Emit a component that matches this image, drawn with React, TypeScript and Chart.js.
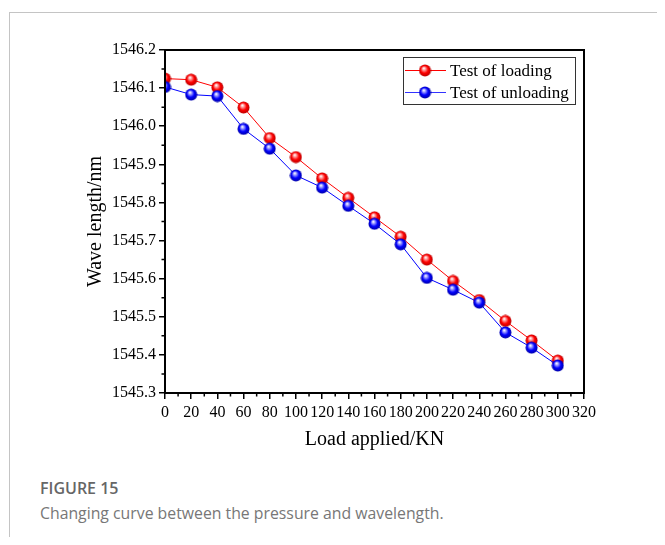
import React, { useEffect, useRef } from 'react';
import { Chart, registerables } from 'chart.js';

Chart.register(...registerables);

// ---- data ----
const loads = [0, 20, 40, 60, 80, 100, 120, 140, 160, 180, 200, 220, 240, 260, 280, 300];
const loadingWave = [1546.125, 1546.122, 1546.102, 1546.049, 1545.969, 1545.919, 1545.863, 1545.812, 1545.761, 1545.71, 1545.65, 1545.594, 1545.544, 1545.489, 1545.438, 1545.385];
const unloadingWave = [1546.103, 1546.083, 1546.079, 1545.993, 1545.941, 1545.871, 1545.839, 1545.791, 1545.744, 1545.69, 1545.602, 1545.571, 1545.537, 1545.459, 1545.419, 1545.372];
const seriesNames = ['Test of loading', 'Test of unloading'];
const xAxisTitle = 'Load applied/KN';
const yAxisTitle = 'Wave length/nm';
const figureLabel = 'FIGURE 15';
const figureCaption = 'Changing curve between the pressure and wavelength.';

const SERIF = '"Liberation Serif", "Times New Roman", serif';

function makeSphere(base: string, light: string, dark: string): HTMLCanvasElement {
  const c = document.createElement('canvas');
  c.width = 13;
  c.height = 13;
  const ctx = c.getContext('2d')!;
  const g = ctx.createRadialGradient(5.2, 4.2, 0.3, 6.5, 6.5, 6.5);
  g.addColorStop(0, '#ffffff');
  g.addColorStop(0.22, light);
  g.addColorStop(0.55, base);
  g.addColorStop(1, dark);
  ctx.fillStyle = g;
  ctx.beginPath();
  ctx.arc(6.5, 6.5, 6, 0, Math.PI * 2);
  ctx.fill();
  return c;
}

export default function App() {
  const canvasRef = useRef<HTMLCanvasElement | null>(null);

  useEffect(() => {
    if (!canvasRef.current) return;
    let chart: any = null;
    try {
      const redBall = makeSphere('#ff0000', '#ff9a9a', '#b00000');
      const blueBall = makeSphere('#0000ff', '#9a9aff', '#00009a');

      const extras = {
        id: 'extras',
        afterDraw(ch: any) {
          const { ctx, chartArea } = ch;
          const xs = ch.scales.x;
          const ys = ch.scales.y;
          ctx.save();
          ctx.strokeStyle = '#000';
          ctx.lineWidth = 2;
          ctx.strokeRect(chartArea.left, chartArea.top, chartArea.right - chartArea.left, chartArea.bottom - chartArea.top);
          ctx.lineWidth = 1.5;
          ctx.beginPath();
          for (let v = 10; v < 320; v += 20) {
            const px = xs.getPixelForValue(v);
            ctx.moveTo(px, chartArea.bottom);
            ctx.lineTo(px, chartArea.bottom + 3.5);
          }
          for (let i = 0; i < 9; i++) {
            const v = 1545.35 + i * 0.1;
            const py = ys.getPixelForValue(v);
            ctx.moveTo(chartArea.left, py);
            ctx.lineTo(chartArea.left - 3.5, py);
          }
          ctx.stroke();
          const lx = chartArea.right - 181;
          const ly = chartArea.top + 7.5;
          const lw = 172;
          const lh = 47;
          ctx.fillStyle = '#fff';
          ctx.fillRect(lx, ly, lw, lh);
          ctx.strokeStyle = '#333';
          ctx.lineWidth = 1;
          ctx.strokeRect(lx + 0.5, ly, lw, lh);
          const rows = [
            { name: seriesNames[0], color: '#ff0000', img: redBall, y: ly + 13 },
            { name: seriesNames[1], color: '#3333ff', img: blueBall, y: ly + 35 },
          ];
          ctx.font = `17px ${SERIF}`;
          ctx.textBaseline = 'middle';
          ctx.textAlign = 'left';
          rows.forEach((r) => {
            ctx.strokeStyle = r.color;
            ctx.lineWidth = 1.2;
            ctx.beginPath();
            ctx.moveTo(lx + 2, r.y);
            ctx.lineTo(lx + 43, r.y);
            ctx.stroke();
            ctx.drawImage(r.img, lx + 22 - 6.5, r.y - 6.5);
            ctx.fillStyle = '#000';
            ctx.fillText(r.name, lx + 47, r.y + 1);
          });
          ctx.restore();
        },
      };

      chart = new Chart(canvasRef.current, {
        type: 'line',
        data: {
          datasets: [
            {
              label: seriesNames[0],
              data: loads.map((x, i) => ({ x, y: loadingWave[i] })),
              borderColor: '#ff0000',
              borderWidth: 1,
              pointStyle: redBall as any,
              pointRadius: 6,
              order: 1,
            },
            {
              label: seriesNames[1],
              data: loads.map((x, i) => ({ x, y: unloadingWave[i] })),
              borderColor: '#0000ff',
              borderWidth: 1,
              pointStyle: blueBall as any,
              pointRadius: 6,
              order: 0,
            },
          ],
        },
        options: {
          animation: false,
          responsive: false,
          maintainAspectRatio: false,
          devicePixelRatio: 1,
          layout: { padding: { left: 72, top: 42, right: 81, bottom: 12 } },
          plugins: {
            legend: { display: false },
            tooltip: { enabled: false },
          },
          scales: {
            x: {
              type: 'linear',
              min: 0,
              max: 320,
              border: { display: true, color: '#000', width: 2 },
              grid: { display: true, drawOnChartArea: false, drawTicks: true, tickLength: 6, color: '#000', lineWidth: 1.5 },
              ticks: {
                stepSize: 20,
                autoSkip: false,
                maxRotation: 0,
                minRotation: 0,
                padding: 4,
                color: '#000',
                font: { family: SERIF, size: 16 },
              },
              title: { display: true, text: xAxisTitle, color: '#000', font: { family: SERIF, size: 20 } },
              afterFit: (s: any) => {
                s.height = 63;
              },
            },
            y: {
              type: 'linear',
              min: 1545.3,
              max: 1546.2,
              border: { display: true, color: '#000', width: 2 },
              grid: { display: true, drawOnChartArea: false, drawTicks: true, tickLength: 6, color: '#000', lineWidth: 1.5 },
              ticks: {
                stepSize: 0.1,
                padding: 3,
                color: '#000',
                font: { family: SERIF, size: 16 },
                callback: (v: any) => Number(v).toFixed(1),
              },
              title: { display: true, text: yAxisTitle, color: '#000', font: { family: SERIF, size: 20 } },
              afterFit: (s: any) => {
                s.width = 85;
              },
            },
          },
        },
        plugins: [extras],
      } as any);
    } catch (e) {
      // ignore
    }
    return () => {
      if (chart) chart.destroy();
    };
  }, []);

  return (
    <div style={{ position: 'relative', width: 657, height: 529, overflow: 'hidden' }}>
      <div
        style={{
          position: 'absolute',
          left: 1,
          top: 4,
          width: 656,
          height: 525,
          boxSizing: 'border-box',
          borderTop: '1px solid #c4c4c4',
          borderLeft: '1px solid #c4c4c4',
        }}
      />
      <canvas ref={canvasRef} width={657} height={460} style={{ position: 'absolute', left: 0, top: 0, width: 657, height: 460 }} />
      <div
        style={{
          position: 'absolute',
          left: 32,
          top: 470,
          fontFamily: '"Open Sans", "Noto Sans", sans-serif',
          fontWeight: 600,
          fontSize: 16,
          color: '#666',
          whiteSpace: 'nowrap',
          lineHeight: '20px',
        }}
      >
        {figureLabel}
      </div>
      <div
        style={{
          position: 'absolute',
          left: 32,
          top: 495,
          fontFamily: '"Open Sans", "Noto Sans", sans-serif',
          fontSize: 15.8,
          color: '#777',
          whiteSpace: 'nowrap',
          lineHeight: '20px',
        }}
      >
        {figureCaption}
      </div>
    </div>
  );
}
